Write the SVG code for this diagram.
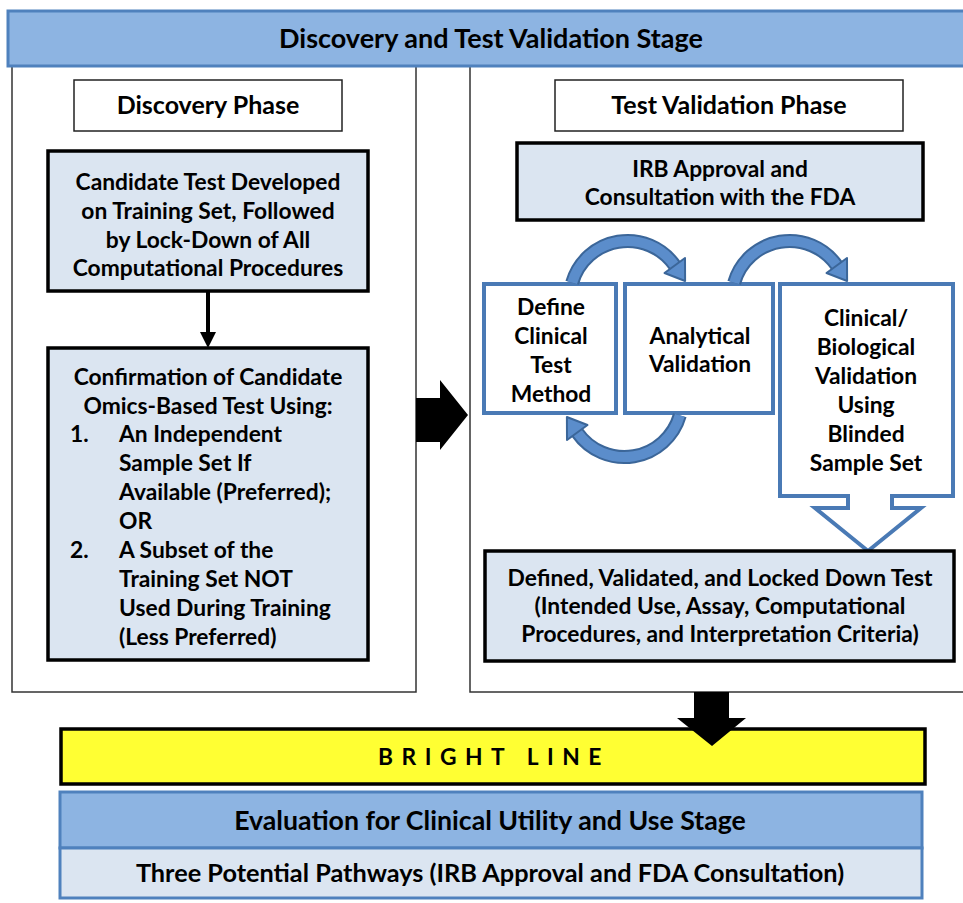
<svg xmlns="http://www.w3.org/2000/svg" width="963" height="903" viewBox="0 0 963 903">
<style>
.t{font-family:Lato,"Open Sans","Liberation Sans",sans-serif;font-weight:bold;fill:#000;font-size:22.8px}
.c{text-anchor:middle}
.h{font-size:27px}
.p{font-size:25px}
.e{font-size:26.7px}
.w{font-size:25.3px}
.lt{fill:#DBE5F1;stroke:#000;stroke-width:3.5}
.wh{fill:#fff;stroke:#222;stroke-width:1.5}
.pn{fill:#fff;stroke:#333;stroke-width:1.5}
.bl{fill:#fff;stroke:#4A7AB5;stroke-width:4}
.band{fill:none;stroke:#3B6699;stroke-width:14}
.band2{fill:none;stroke:#5B8DCB;stroke-width:10}
.head{fill:#5B8DCB;stroke:#3B6699;stroke-width:2;stroke-linejoin:round}
</style>
<defs>
<g id="arc">
<path class="band" d="M572.2 282.7 A57.6 57.6 0 0 1 674.8 265.6"/>
<path class="band2" d="M572.2 282.7 A57.6 57.6 0 0 1 674.8 265.6"/>
<polygon class="head" points="685,258 664.5,273 685.1,281"/>
</g>
</defs>
<rect width="963" height="903" fill="#fff"/>

<g id="panels">
<rect class="pn" x="12" y="66" width="404" height="626"/>
<rect class="pn" x="470" y="66" width="500" height="626"/>
</g>

<g id="stage-banner">
<rect x="8" y="11" width="960" height="55" fill="#8DB4E2" stroke="#4F81BD" stroke-width="3"/>
<text class="t c h" x="491" y="48">Discovery and Test Validation Stage</text>
</g>

<g id="discovery-phase">
<rect class="wh" x="74" y="80" width="268" height="51"/>
<text class="t c p" x="208" y="114">Discovery Phase</text>
</g>

<g id="test-validation-phase">
<rect class="wh" x="555" y="80" width="348" height="51"/>
<text class="t c p" x="729" y="114">Test Validation Phase</text>
</g>

<g id="candidate">
<rect class="lt" x="48" y="151" width="320" height="140"/>
<text class="t c" x="208" y="190">Candidate Test Developed</text>
<text class="t c" x="208" y="219">on Training Set, Followed</text>
<text class="t c" x="208" y="248">by Lock-Down of All</text>
<text class="t c" x="208" y="276">Computational Procedures</text>
</g>

<g id="confirmation">
<rect class="lt" x="48" y="348" width="320" height="312"/>
<text class="t c" x="208" y="385">Confirmation of Candidate</text>
<text class="t c" x="208" y="414">Omics-Based Test Using:</text>
<text class="t" x="70" y="442">1.</text>
<text class="t" x="119" y="442">An Independent</text>
<text class="t" x="119" y="471">Sample Set If</text>
<text class="t" x="119" y="500">Available (Preferred);</text>
<text class="t" x="119" y="529">OR</text>
<text class="t" x="70" y="558">2.</text>
<text class="t" x="119" y="558">A Subset of the</text>
<text class="t" x="119" y="587">Training Set NOT</text>
<text class="t" x="119" y="616">Used During Training</text>
<text class="t" x="119" y="645">(Less Preferred)</text>
</g>

<g id="irb">
<rect class="lt" x="517" y="143" width="406" height="77"/>
<text class="t c" x="720" y="177">IRB Approval and</text>
<text class="t c" x="720" y="205">Consultation with the FDA</text>
</g>

<g id="define">
<rect class="bl" x="484" y="284" width="132" height="129"/>
<text class="t c" x="551" y="315">Define</text>
<text class="t c" x="551" y="344">Clinical</text>
<text class="t c" x="551" y="373">Test</text>
<text class="t c" x="551" y="402">Method</text>
</g>

<g id="analytical">
<rect class="bl" x="625" y="284" width="148" height="129"/>
<text class="t c" x="700" y="344">Analytical</text>
<text class="t c" x="700" y="372">Validation</text>
</g>

<g id="clinical">
<path class="bl" d="M780 284 H953 V496 H892 V508 H921 L868 551 L815 508 H848 V496 H780 Z"/>
<text class="t c" x="866" y="326">Clinical/</text>
<text class="t c" x="866" y="355">Biological</text>
<text class="t c" x="866" y="384">Validation</text>
<text class="t c" x="866" y="413">Using</text>
<text class="t c" x="866" y="442">Blinded</text>
<text class="t c" x="866" y="471">Sample Set</text>
</g>

<g id="locked">
<rect class="lt" x="485" y="551" width="469" height="110"/>
<text class="t c" x="720" y="586">Defined, Validated, and Locked Down Test</text>
<text class="t c" x="720" y="614">(Intended Use, Assay, Computational</text>
<text class="t c" x="720" y="642">Procedures, and Interpretation Criteria)</text>
</g>

<g id="bright-line">
<rect x="61" y="729" width="864" height="55" fill="#FFFF33" stroke="#000" stroke-width="3.5"/>
<text class="t c" x="494" y="765" letter-spacing="8.5">BRIGHT  LINE</text>
</g>

<g id="evaluation">
<rect x="60" y="792" width="862" height="56" fill="#8DB4E2" stroke="#4F81BD" stroke-width="3"/>
<text class="t c e" x="490" y="830">Evaluation for Clinical Utility and Use Stage</text>
</g>

<g id="pathways">
<rect x="60" y="848" width="862" height="50" fill="#DBE5F1" stroke="#4F81BD" stroke-width="3"/>
<text class="t c w" x="490" y="882">Three Potential Pathways (IRB Approval and FDA Consultation)</text>
</g>

<g id="connectors">
<line x1="208" y1="291" x2="208" y2="334" stroke="#000" stroke-width="4"/>
<polygon points="200,332 216,332 208,348" fill="#000"/>
<polygon points="416,398 440,398 440,380 468,415 440,450 440,442 416,442" fill="#000"/>
<polygon points="694,692 729,692 729,718 746,718 712,746 677,718 694,718" fill="#000"/>
<use href="#arc"/>
<use href="#arc" transform="translate(162 0)"/>
<use href="#arc" transform="rotate(180 626 349)"/>
</g>
</svg>
